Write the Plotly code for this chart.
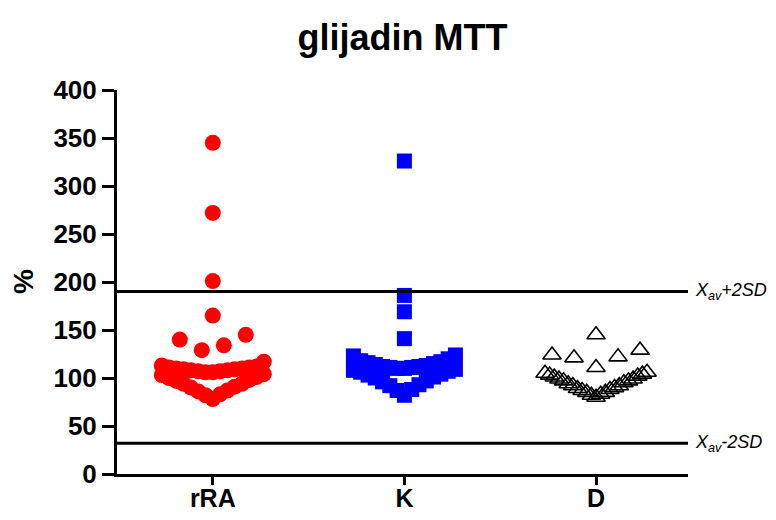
import plotly.graph_objects as go

# ---------------- data ----------------
title_text = "glijadin MTT"
y_title = "%"
groups = ["rRA", "K", "D"]

rRA = [78, 82, 83, 86, 87, 90, 91, 94, 94, 97, 98, 100, 101, 103, 104,
       106, 106, 107, 107, 108, 108, 109, 109, 110, 110, 111, 111, 112, 113, 117,
       129, 134, 140, 145, 165, 201, 272, 345]
K = [82, 87, 88, 92, 93, 96, 97, 100, 101, 103, 104, 106, 107, 108, 109,
     110, 110, 111, 111, 112, 112, 113, 114, 115, 116, 117, 118, 120, 123, 124,
     141, 169, 186, 326]
D = [80, 82, 83, 85, 85, 87, 88, 89, 90, 92, 92, 94, 95, 97, 97, 99, 99, 101, 102, 103, 104,
     105, 106, 111, 121, 122, 124, 129, 145]

upper_limit = 190   # X_av + 2SD
lower_limit = 32    # X_av - 2SD
y_ticks = [0, 50, 100, 150, 200, 250, 300, 350, 400]

# ---------------- layout geometry ----------------
W, H = 768, 512            # page body adds an 8 px offset
ML, MR, MT, MB = 109, 88, 82, 46
X_RANGE = [-0.5, 2.48]
px_per_unit = (W - ML - MR) / (X_RANGE[1] - X_RANGE[0])


def swarm_offsets(values, row_height=28, gap=11, max_step_px=22, max_half_px=51):
    """Row-based scatter spreading (GraphPad-like): returns x offsets in axis units."""
    order = sorted(range(len(values)), key=lambda i: values[i])
    rows, cur, start, prev = [], [], None, None
    for i in order:
        v = values[i]
        if cur and (v - start >= row_height or v - prev >= gap):
            rows.append(cur)
            cur = []
        if not cur:
            start = v
        cur.append(i)
        prev = v
    if cur:
        rows.append(cur)
    offs = [0.0] * len(values)
    for row in rows:
        n = len(row)
        step = max_step_px if n < 2 else min(max_step_px, 2 * max_half_px / (n - 1))
        for k, i in enumerate(row):
            if n % 2 == 1:
                if k == 0:
                    pos = 0
                else:
                    m = (k + 1) // 2
                    pos = -m if k % 2 == 1 else m
            else:
                m = k // 2 + 0.5
                pos = -m if k % 2 == 0 else m
            offs[i] = pos * step / px_per_unit
    return offs


def xs(idx, vals):
    return [idx + o for o in swarm_offsets(vals)]


fig = go.Figure()
fig.add_trace(go.Scatter(x=xs(0, rRA), y=rRA, mode="markers",
                         marker=dict(symbol="circle", size=16, color="#FF0000",
                                     line=dict(width=0)), name=groups[0]))
fig.add_trace(go.Scatter(x=xs(1, K), y=K, mode="markers",
                         marker=dict(symbol="square", size=15, color="#0000FF",
                                     line=dict(width=0)), name=groups[1]))
fig.add_trace(go.Scatter(x=xs(2, D), y=D, mode="markers",
                         marker=dict(symbol="triangle-up-open", size=16, color="#000000",
                                     line=dict(width=1.6, color="#000000")), name=groups[2]))

for yv in (upper_limit, lower_limit):
    fig.add_shape(type="line", xref="paper", x0=0, x1=1, yref="y", y0=yv, y1=yv,
                  line=dict(color="black", width=3))

fig.add_annotation(xref="paper", x=1, xshift=5, xanchor="left", yref="y", y=upper_limit,
                   yanchor="middle", showarrow=False,
                   text="<i>X<sub>av</sub>+2SD</i>",
                   font=dict(family="Liberation Sans", size=18, color="black"))
fig.add_annotation(xref="paper", x=1, xshift=5, xanchor="left", yref="y", y=lower_limit,
                   yanchor="middle", showarrow=False,
                   text="<i>X<sub>av</sub>-2SD</i>",
                   font=dict(family="Liberation Sans", size=18, color="black"))

fig.add_annotation(xref="paper", x=0, xshift=-94, xanchor="center", yref="paper", y=0.5,
                   yanchor="middle", showarrow=False, textangle=-90, text=y_title,
                   font=dict(family="Liberation Sans", size=28, color="black", weight="bold"))

fig.update_layout(
    width=W, height=H,
    margin=dict(l=ML, r=MR, t=MT, b=MB, autoexpand=False),
    paper_bgcolor="white", plot_bgcolor="white",
    showlegend=False,
    title=dict(text=title_text, x=0.5, xref="paper", xanchor="center",
               y=1 - 29 / H, yref="container", yanchor="middle",
               font=dict(family="Liberation Sans", size=36, color="black", weight="bold")),
    xaxis=dict(range=X_RANGE, tickvals=[0, 1, 2], ticktext=groups, automargin=False,
               showline=True, linecolor="black", linewidth=3,
               ticks="outside", ticklen=8, tickwidth=3, tickcolor="black",
               showgrid=False, zeroline=False, ticklabelstandoff=-8,
               tickfont=dict(family="Liberation Sans", size=25, color="black", weight="bold")),
    yaxis=dict(range=[0, 400], tickvals=y_ticks, automargin=False,
               showline=True, linecolor="black", linewidth=3,
               ticks="outside", ticklen=12, tickwidth=3, tickcolor="black",
               showgrid=False, zeroline=False, ticklabelstandoff=0,
               tickfont=dict(family="Liberation Sans", size=26, color="black", weight="bold")),
)

fig.write_html("out.html")
